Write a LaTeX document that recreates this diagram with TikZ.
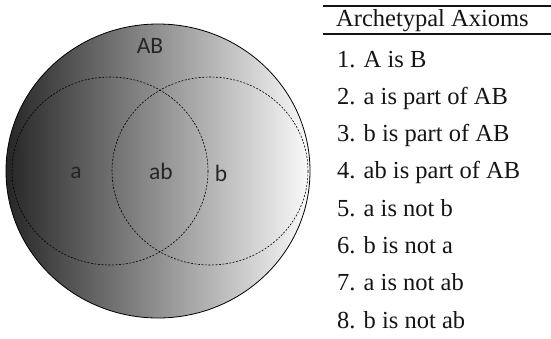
\documentclass[tikz,border=0pt]{standalone}
\usepackage{fontspec}
\setmainfont{Liberation Serif}
\newfontfamily\labelfont{Carlito}
\tikzset{
  region/.style={draw=black, line width=0.8pt, left color=black!85, right color=black!2},
  setcircle/.style={draw=black, line width=0.6pt, dash pattern=on 2pt off 1.5pt},
  setlabel/.style={font=\labelfont\fontsize{23.5}{25}\selectfont, text=black!85, inner sep=0pt},
  axiom/.style={font=\fontsize{24.5}{26}\selectfont, text=black!92, anchor=base west, inner sep=0pt},
  tablerule/.style={line width=1.6pt, draw=black!92}
}
\begin{document}
\begin{tikzpicture}[x=1pt,y=-1pt]
\useasboundingbox (0,0) rectangle (551,338);
% big region AB
\path[region] (158,171) ellipse [x radius=152, y radius=147];
\draw[setcircle] (110,171) ellipse [x radius=98, y radius=94];
\draw[setcircle] (210,171) ellipse [x radius=98, y radius=94];
\node[setlabel] (lAB) at (150,46) {AB};
\node[setlabel] (la) at (76,173) {a};
\node[setlabel] (lab) at (161,171) {ab};
\node[setlabel] (lb) at (221,173) {b};
% table
\coordinate (r1l) at (323,6); \coordinate (r1r) at (551,6);
\coordinate (r2l) at (323,34); \coordinate (r2r) at (551,34);
\draw[tablerule] (r1l) -- (r1r);
\draw[tablerule] (r2l) -- (r2r);
\node[axiom] (hd) at (336,26.5) {Archetypal Axioms};
\node[axiom] (x1) at (337,67) {1. A is B};
\node[axiom] (x2) at (337,104.3) {2. a is part of AB};
\node[axiom] (x3) at (337,141.6) {3. b is part of AB};
\node[axiom] (x4) at (337,178.9) {4. ab is part of AB};
\node[axiom] (x5) at (337,216.2) {5. a is not b};
\node[axiom] (x6) at (337,253.5) {6. b is not a};
\node[axiom] (x7) at (337,290.8) {7. a is not ab};
\node[axiom] (x8) at (337,328) {8. b is not ab};
\end{tikzpicture}
\end{document}
